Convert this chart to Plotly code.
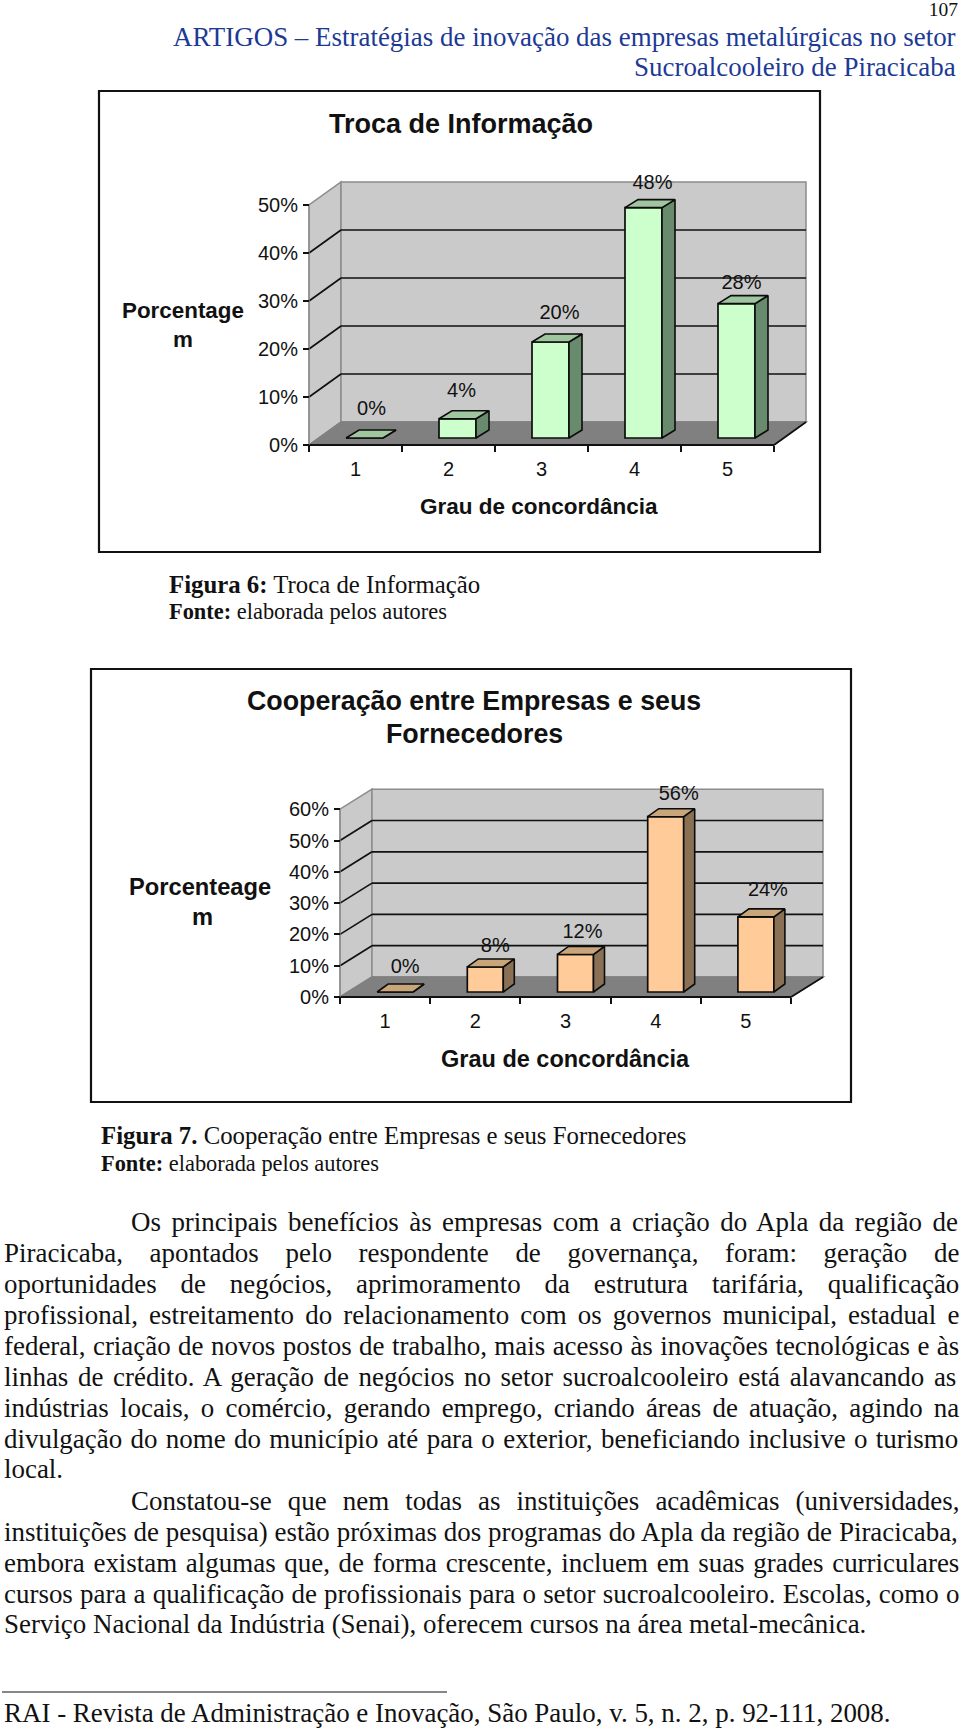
import unicodedata
import plotly.graph_objects as go

# ---------- data ----------
categories = [1, 2, 3, 4, 5]
troca_values = [0, 4, 20, 48, 28]
cooperacao_values = [0, 8, 12, 56, 24]
troca_ticks = [0, 10, 20, 30, 40, 50]
cooperacao_ticks = [0, 10, 20, 30, 40, 50, 60]

header_lines = ["ARTIGOS – Estratégias de inovação das empresas metalúrgicas no setor",
                "Sucroalcooleiro de Piracicaba"]
body_lines = [
    "Os principais benefícios às empresas com a criação do Apla da região de",
    "Piracicaba, apontados pelo respondente de governança, foram: geração de",
    "oportunidades de negócios, aprimoramento da estrutura tarifária, qualificação",
    "profissional, estreitamento do relacionamento com os governos municipal, estadual e",
    "federal, criação de novos postos de trabalho, mais acesso às inovações tecnológicas e às",
    "linhas de crédito. A geração de negócios no setor sucroalcooleiro está alavancando as",
    "indústrias locais, o comércio, gerando emprego, criando áreas de atuação, agindo na",
    "divulgação do nome do município até para o exterior, beneficiando inclusive o turismo",
    "local.",
    "Constatou-se que nem todas as instituições acadêmicas (universidades,",
    "instituições de pesquisa) estão próximas dos programas do Apla da região de Piracicaba,",
    "embora existam algumas que, de forma crescente, incluem em suas grades curriculares",
    "cursos para a qualificação de profissionais para o setor sucroalcooleiro. Escolas, como o",
    "Serviço Nacional da Indústria (Senai), oferecem cursos na área metal-mecânica.",
]
footer_text = "RAI - Revista de Administração e Inovação, São Paulo, v. 5, n. 2, p. 92-111, 2008."

W, H = 960, 1729
SERIF = "Liberation Serif"
SANS = "Liberation Sans"
BLUE = "#1c3a94"

# Times metric widths, used to fit and justify the lines of running text
_w = {' ': 250, ',': 250, '.': 250, '-': 333, ':': 278, '(': 333, ')': 333, '–': 500}
_w.update(zip("abcdefghijklmnopqrstuvwxyz",
              [444,500,444,500,444,333,500,500,278,278,500,278,778,500,500,500,500,333,389,278,500,500,722,500,500,444]))
_w.update(zip("ABCDEFGHIJKLMNOPQRSTUVWXYZ",
              [722,667,667,722,611,556,722,722,333,389,722,611,889,722,722,556,722,667,556,611,722,722,944,722,722,611]))
_w.update({d: 500 for d in "0123456789"})

def em(text):
    base = unicodedata.normalize("NFD", text)
    return sum(_w.get(c, 0) for c in base if not unicodedata.combining(c)) / 1000

fig = go.Figure()
annotations, shapes = [], []

def page_text(text, x, y, size, anchor="left", color="#111111", font=SERIF):
    annotations.append(dict(text=text, x=x / W, y=1 - y / H, xref="paper", yref="paper",
                            xanchor=anchor, yanchor="middle", showarrow=False, align=anchor,
                            font=dict(family=font, size=size, color=color)))

def box(x0, y0, x1, y1):
    shapes.append(dict(type="rect", xref="paper", yref="paper", x0=x0 / W, x1=x1 / W,
                       y0=1 - y0 / H, y1=1 - y1 / H, line=dict(color="#111111", width=2.2),
                       fillcolor="rgba(0,0,0,0)", layer="above"))

def chart(idx, values, ticks, g):
    ax = "" if idx == 1 else str(idx)
    xr, yr = "x" + ax, "y" + ax
    dx = g["depth_x"] / g["cat_px"]
    dy = g["depth_y"] / g["pct_px"]
    x_left = 0.5
    x_right = 0.5 + len(values)
    v_top = ticks[-1]
    pad = 4

    def X(px): return x_left + (px - g["left"]) / g["cat_px"]
    def Y(py): return (g["bottom"] - py) / g["pct_px"]

    px_r = g["left"] + (x_right - x_left) * g["cat_px"] + g["depth_x"] + pad
    py_t = g["bottom"] - v_top * g["pct_px"] - g["depth_y"] - pad
    xa = dict(domain=[(g["left"] - pad) / W, px_r / W], range=[X(g["left"] - pad), X(px_r)],
              anchor="free", position=1 - g["bottom"] / H, showgrid=False, zeroline=False, showline=False,
              tickmode="array", tickvals=categories, ticktext=[str(c) for c in categories],
              ticks="", ticklabelstandoff=g["x_standoff"], ticklabelposition="outside",
              tickfont=dict(family=SANS, size=g["tick_size"], color="#111111"),
              minor=dict(tickmode="array", tickvals=[0.5 + i for i in range(len(values) + 1)],
                         ticks="outside", ticklen=6, tickcolor="#111111", tickwidth=1.5, showgrid=False))
    ya = dict(domain=[1 - (g["bottom"] + pad) / H, 1 - py_t / H], range=[Y(g["bottom"] + pad), Y(py_t)],
              anchor="free", position=g["left"] / W, showgrid=False, zeroline=False, showline=False,
              tickmode="array", tickvals=ticks, ticktext=[f"{t}%" for t in ticks],
              ticks="outside", ticklen=6, tickcolor="#111111", tickwidth=1.5, ticklabelstandoff=1,
              tickfont=dict(family=SANS, size=g["tick_size"], color="#111111"))
    fig.update_layout({"xaxis" + ax: xa, "yaxis" + ax: ya})

    def poly(pts, fill, line="#8c8c8c", w=1.5):
        path = "M " + " L ".join(f"{a},{b}" for a, b in pts) + " Z"
        shapes.append(dict(type="path", path=path, xref=xr, yref=yr, fillcolor=fill,
                           line=dict(color=line, width=w), layer="below"))

    def seg(p, q, color="#111111", w=1.7):
        shapes.append(dict(type="line", xref=xr, yref=yr, x0=p[0], y0=p[1], x1=q[0], y1=q[1],
                           line=dict(color=color, width=w), layer="below"))

    xb, yb = x_left + dx, dy
    poly([(x_left, 0), (xb, yb), (xb, v_top + dy), (x_left, v_top)], "#cacaca")
    poly([(xb, yb), (x_right + dx, yb), (x_right + dx, v_top + dy), (xb, v_top + dy)], "#cacaca")
    poly([(x_left, 0), (x_right, 0), (x_right + dx, yb), (xb, yb)], "#808080", line="#808080")
    for t in ticks[1:-1]:
        seg((x_left, t), (xb, t + dy))
        seg((xb, t + dy), (x_right + dx, t + dy))
    seg((x_left, 0), (x_right, 0), w=2)
    seg((x_right, 0), (x_right + dx, yb))
    seg((x_left, 0), (x_left, v_top), color="#8c8c8c", w=1.2)

    base = g["bar_lift"] / g["pct_px"]
    off = g["bar_shift"] / g["cat_px"]
    bw = g["bar_px"] / g["cat_px"]
    ddx = g["bar_depth_x"] / g["cat_px"]
    ddy = g["bar_depth_y"] / g["pct_px"]

    fig.add_trace(go.Bar(x=[c + off for c in categories], y=values, base=base, width=bw,
                         marker=dict(color=g["face"], line=dict(color="#0c0c0c", width=1.7)),
                         xaxis=xr, yaxis=yr, hoverinfo="skip"))
    sx, sy, tx, ty = [], [], [], []
    for c, v in zip(categories, values):
        l, r = c + off - bw / 2, c + off + bw / 2
        top = base + v
        sx += [r, r + ddx, r + ddx, r, r, None]
        sy += [base, base + ddy, top + ddy, top, base, None]
        tx += [l, l + ddx, r + ddx, r, l, None]
        ty += [top, top + ddy, top + ddy, top, top, None]
    line = dict(color="#0c0c0c", width=1.6)
    fig.add_trace(go.Scatter(x=sx, y=sy, mode="lines", fill="toself", fillcolor=g["side"], line=line,
                             xaxis=xr, yaxis=yr, hoverinfo="skip"))
    fig.add_trace(go.Scatter(x=tx, y=ty, mode="lines", fill="toself", fillcolor=g["top"], line=line,
                             xaxis=xr, yaxis=yr, hoverinfo="skip"))
    fig.add_trace(go.Scatter(
        x=[c + off + (g["label_dx"] + n) / g["cat_px"] for c, n in zip(categories, g["label_nudge_x"])],
        y=[base + v + (g["label_dy"] + n) / g["pct_px"] for v, n in zip(values, g["label_nudge_y"])],
        mode="text", text=[f"{v}%" for v in values], textposition="middle center",
        textfont=dict(family=SANS, size=g["tick_size"], color="#111111"),
        cliponaxis=False, xaxis=xr, yaxis=yr, hoverinfo="skip"))


# ---------- chart 1 ----------
box(99, 91, 820, 552)
chart(1, troca_values, troca_ticks, dict(
    left=309, bottom=445, cat_px=93, pct_px=4.8, depth_x=32, depth_y=23,
    bar_lift=7, bar_shift=9, bar_px=37, bar_depth_x=13, bar_depth_y=8,
    label_dx=7, label_dy=25, label_nudge_x=[0, -3, 2, 2, -2], label_nudge_y=[3, 2, 3, -1, -5],
    face="#ccffcc", side="#688a6d", top="#a0c6a0", tick_size=20, x_standoff=10))
page_text("<b>Troca de Informação</b>", 461, 124.5, 27, "center", font=SANS)
page_text("<b>Porcentage</b>", 183, 311, 22.4, "center", font=SANS)
page_text("<b>m</b>", 183, 339, 22.4, "center", font=SANS)
page_text("<b>Grau de concordância</b>", 539, 507, 22.5, "center", font=SANS)

# ---------- chart 2 ----------
box(91, 669, 851, 1102)
chart(2, cooperacao_values, cooperacao_ticks, dict(
    left=340, bottom=997, cat_px=90.2, pct_px=3.13, depth_x=32, depth_y=20,
    bar_lift=5, bar_shift=10, bar_px=36, bar_depth_x=11, bar_depth_y=8,
    label_dx=10, label_dy=22, label_nudge_x=[0, 0, -3, 3, 2], label_nudge_y=[2, -2, -1, 0, 4],
    face="#ffcc99", side="#8a7055", top="#c9a67a", tick_size=20, x_standoff=10))
page_text("<b>Cooperação entre Empresas e seus</b>", 474, 701, 26.8, "center", font=SANS)
page_text("<b>Fornecedores</b>", 474, 734, 26.8, "center", font=SANS)
page_text("<b>Porcenteage</b>", 200, 887, 23.7, "center", font=SANS)
page_text("<b>m</b>", 202, 917, 23.7, "center", font=SANS)
page_text("<b>Grau de concordância</b>", 565, 1059, 23.5, "center", font=SANS)

# ---------- page text ----------
head_size = 785 / em(header_lines[0])
page_text(header_lines[0], 958, 36.5, head_size, "right", color=BLUE)
page_text(header_lines[1], 958, 67, head_size, "right", color=BLUE)

page_text("<b>Figura 6:</b> Troca de Informação", 167, 584, 24.8)
page_text("<b>Fonte:</b> elaborada pelos autores", 167, 612, 22.4)
page_text("<b>Figura 7.</b> Cooperação entre Empresas e seus Fornecedores", 99, 1135, 24.8)
page_text("<b>Fonte:</b> elaborada pelos autores", 99, 1163, 22.4)

body_size = 863 / em(body_lines[-1])
body_y = [1222, 1253, 1284, 1315, 1346, 1377, 1408, 1439, 1469, 1501, 1532, 1563, 1594, 1624]
indented = {0, 9}
not_justified = {8, 13}
for i, (text, y) in enumerate(zip(body_lines, body_y)):
    x0 = 129 if i in indented else 2
    if i in not_justified:
        page_text(text, x0, y, body_size)
    else:
        extra = (958 - x0 - body_size * em(text)) / text.count(" ")
        page_text(f'<span style="word-spacing:{extra:.2f}px">{text}</span>', x0, y, body_size)

shapes.append(dict(type="line", xref="paper", yref="paper", x0=2 / W, x1=447 / W,
                   y0=1 - 1692 / H, y1=1 - 1692 / H, line=dict(color="#111111", width=1.2)))
page_text(footer_text, 2, 1713, 892 / em(footer_text))

fig.update_layout(width=W, height=H, margin=dict(l=0, r=0, t=0, b=0, pad=0, autoexpand=False),
                  title=dict(text="107", x=958 / W, y=1 - 9 / H, xref="paper", yref="paper",
                             xanchor="right", yanchor="middle",
                             font=dict(family=SERIF, size=19.5, color="#111111")),
                  paper_bgcolor="white", plot_bgcolor="rgba(0,0,0,0)", showlegend=False,
                  barmode="overlay", annotations=annotations, shapes=shapes)
fig.write_html("out.html", post_script='document.body.style.margin="0";document.body.style.overflow="hidden";',
               config={"displayModeBar": False})
